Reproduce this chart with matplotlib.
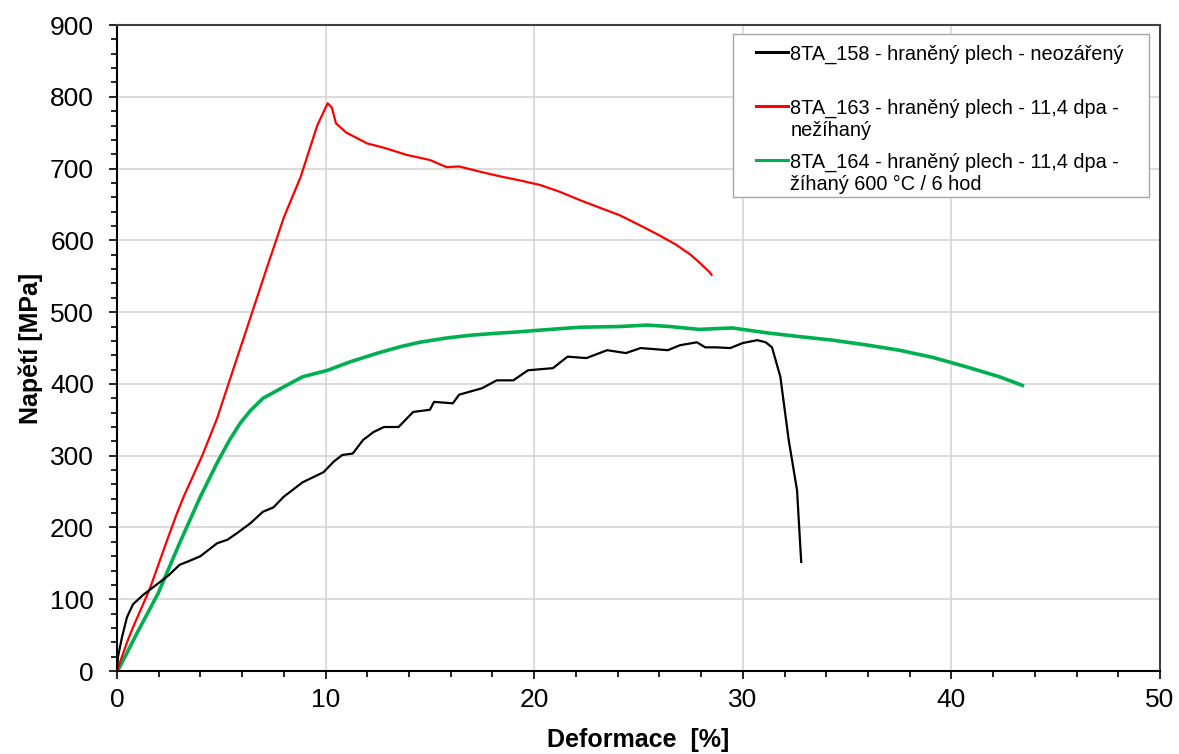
import matplotlib.pyplot as plt
from matplotlib.lines import Line2D
from matplotlib.patches import Rectangle
from matplotlib.ticker import MultipleLocator

plt.rcParams['font.family'] = ['Liberation Sans', 'DejaVu Sans']

# 8TA_158 - neozareny
black_x = [0, 0.05, 0.24, 0.48, 0.77, 1.25, 2.06, 2.5, 3.0, 3.6, 4.0, 4.8, 5.3, 5.75,
           6.4, 7.0, 7.5, 8.0, 8.9, 9.9, 10.4, 10.8, 11.3, 11.8, 12.3, 12.8, 13.5,
           14.2, 15.0, 15.2, 16.1, 16.4, 17.5, 18.2, 19.0, 19.7, 20.9, 21.6, 22.5,
           23.5, 24.4, 25.1, 26.4, 27.0, 27.8, 28.2, 28.7, 29.4, 30.0, 30.7, 31.1,
           31.4, 31.8, 32.2, 32.6, 32.8]
black_y = [0, 20, 47, 75, 93, 106, 124, 134, 148, 155, 160, 178, 183, 192,
           206, 222, 228, 243, 263, 277, 292, 301, 303, 322, 333, 340, 340,
           361, 364, 375, 373, 385, 394, 405, 405, 419, 422, 438, 436,
           447, 443, 450, 447, 454, 458, 451, 451, 450, 457, 461, 458,
           451, 410, 322, 252, 152]

# 8TA_163 - 11,4 dpa - nezihany
red_x = [0, 0.48, 0.77, 1.58, 2.4, 2.88, 3.2, 4.1, 4.8, 5.4, 6.2, 7.2, 8.0, 8.8, 9.6,
         10.1, 10.3, 10.5, 11.0, 12.0, 12.8, 13.9, 15.0, 15.8, 16.4, 17.5, 18.4,
         19.4, 20.3, 21.2, 22.2, 23.1, 24.1, 25.0, 26.0, 26.8, 27.5, 28.0, 28.4, 28.5]
red_y = [0, 40, 61, 115, 182, 220, 243, 301, 352, 405, 475, 563, 632, 688, 760,
         791, 785, 763, 750, 735, 729, 719, 712, 702, 703, 695, 689,
         683, 677, 668, 656, 646, 635, 622, 607, 594, 580, 567, 556, 552]

# 8TA_164 - 11,4 dpa - zihany 600 C / 6 hod
green_x = [0, 0.14, 1.0, 1.97, 3.0, 4.0, 4.8, 5.4, 5.9, 6.4, 7.0, 8.0, 8.9, 10.1,
           11.2, 12.5, 13.6, 14.5, 15.8, 17.0, 18.4, 19.0, 20.3, 22.2, 24.1, 25.4,
           26.5, 27.9, 29.5, 31.2, 32.7, 34.3, 36.0, 37.5, 39.1, 40.7, 42.3, 43.4]
green_y = [0, 6, 55, 108, 178, 243, 290, 322, 345, 363, 380, 396, 410, 419,
           431, 443, 452, 458, 464, 468, 471, 472, 475, 479, 480, 482,
           480, 476, 478, 471, 466, 461, 454, 447, 437, 424, 410, 398]

labels = ["8TA_158 - hraněný plech - neozářený",
          "8TA_163 - hraněný plech - 11,4 dpa -\nnežíhaný",
          "8TA_164 - hraněný plech - 11,4 dpa -\nžíhaný 600 °C / 6 hod"]
colors = ["#000000", "#FF0000", "#00B050"]

fig = plt.figure(figsize=(11.79, 7.54), dpi=100)
ax = fig.add_axes([0.0992, 0.110, 0.8847, 0.8568])

ax.plot(black_x, black_y, color=colors[0], lw=1.6, zorder=4)
ax.plot(red_x, red_y, color=colors[1], lw=1.6, zorder=3)
ax.plot(green_x, green_y, color=colors[2], lw=2.6, zorder=2)

ax.set_xlim(0, 50)
ax.set_ylim(0, 900)
ax.xaxis.set_major_locator(MultipleLocator(10))
ax.xaxis.set_minor_locator(MultipleLocator(2))
ax.yaxis.set_major_locator(MultipleLocator(100))
ax.yaxis.set_minor_locator(MultipleLocator(20))
ax.grid(True, which='major', color='#D9D9D9', lw=1.3, zorder=0)
ax.tick_params(which='major', direction='out', length=5.5, width=1.2, labelsize=19)
ax.tick_params(which='minor', direction='out', length=4, width=1.2)
ax.tick_params(axis='x', which='major', pad=7)
ax.tick_params(axis='y', which='major', pad=11)
for s in ['left', 'bottom']:
    ax.spines[s].set_linewidth(1.5)
    ax.spines[s].set_color('black')
for s in ['top', 'right']:
    ax.spines[s].set_linewidth(1.5)
    ax.spines[s].set_color('#404040')

ax.set_xlabel("Deformace  [%]", fontsize=18, fontweight='bold', labelpad=11)
ax.set_ylabel("Napětí [MPa]", fontsize=18, fontweight='bold', labelpad=5)

# legend drawn by hand, Excel style
ax.add_patch(Rectangle((0.5906, 0.7337), 0.3989, 0.2523, transform=ax.transAxes,
                       facecolor='white', edgecolor='#A6A6A6', lw=1.0, zorder=10))
row_y = [0.958, 0.8746, 0.791]
line_step = 0.034
for lab, col, yy in zip(labels, colors, row_y):
    ax.add_line(Line2D([0.6127, 0.6433], [yy, yy], transform=ax.transAxes,
                       color=col, lw=2.2, zorder=11))
    for k, part in enumerate(lab.split("\n")):
        ax.text(0.6455, yy - k * line_step, part, transform=ax.transAxes,
                fontsize=14.3, va='center_baseline', ha='left', zorder=11)

fig.savefig("out.png", dpi=100)
